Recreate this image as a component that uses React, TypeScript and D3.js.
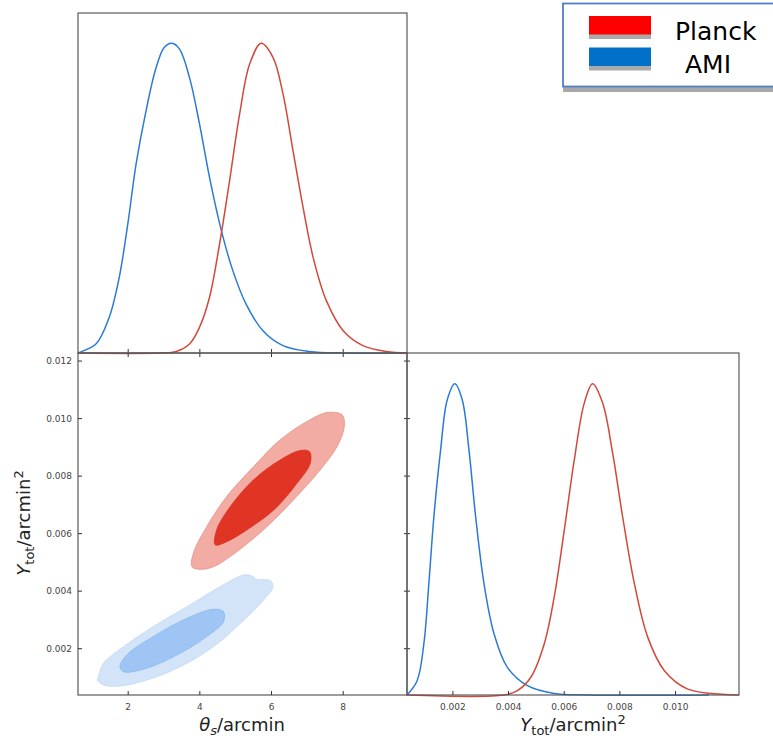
import React from "react";
import * as d3 from "d3";

// 1D marginal of theta_s (normalised to peak = 1)
const thetaAMI: [number, number][] = [
  [0.6, 0], [0.64, 0.002], [1.1, 0.029], [1.47, 0.115], [1.75, 0.244], [1.99, 0.417],
  [2.22, 0.61], [2.5, 0.783], [2.78, 0.922], [3.01, 0.987], [3.22, 1.0], [3.43, 0.982],
  [3.71, 0.89], [3.99, 0.74], [4.27, 0.567], [4.59, 0.4], [4.92, 0.266], [5.29, 0.158],
  [5.76, 0.072], [6.32, 0.024], [7.06, 0.005], [8.0, 0.0], [9.78, 0]
];
const thetaPlanck: [number, number][] = [
  [0.6, 0], [2.87, 0], [3.34, 0.005], [3.71, 0.029], [3.99, 0.083], [4.27, 0.18],
  [4.55, 0.352], [4.83, 0.557], [5.11, 0.772], [5.39, 0.933], [5.71, 1.0], [6.04, 0.955],
  [6.32, 0.837], [6.6, 0.653], [6.88, 0.47], [7.16, 0.309], [7.53, 0.169], [8.0, 0.072],
  [8.55, 0.024], [9.2, 0.005], [9.78, 0]
];

// 1D marginal of Y_tot
const ytotAMI: [number, number][] = [
  [0.00035, 0], [0.000714, 0.046], [0.000955, 0.164], [0.001135, 0.358], [0.001315, 0.572],
  [0.001557, 0.787], [0.001795, 0.948], [0.00207, 1.0], [0.002336, 0.948], [0.002577, 0.787],
  [0.002818, 0.572], [0.003117, 0.358], [0.003477, 0.197], [0.003957, 0.089], [0.004678, 0.03],
  [0.00564, 0.005], [0.0068, 0], [0.0112, 0]
];
const ytotPlanck: [number, number][] = [
  [0.00035, 0], [0.00384, 0], [0.004317, 0.014], [0.0048, 0.057], [0.00528, 0.164],
  [0.00564, 0.315], [0.006, 0.529], [0.00636, 0.755], [0.00672, 0.938], [0.00702, 1.0],
  [0.00738, 0.938], [0.00774, 0.777], [0.0081, 0.572], [0.00852, 0.358], [0.009, 0.186],
  [0.0096, 0.078], [0.01044, 0.019], [0.01228, 0]
];

// 2D contours (theta_s, Y_tot)
const planckOuter: [number, number][] = [
  [3.78, 0.00485], [3.82, 0.00532], [4.19, 0.00624], [4.75, 0.00729], [5.5, 0.00833],
  [6.24, 0.00926], [6.99, 0.0099], [7.55, 0.01021], [7.97, 0.01013], [8.03, 0.00972],
  [7.83, 0.00903], [7.36, 0.00822], [6.61, 0.00717], [5.87, 0.00624], [5.03, 0.00537],
  [4.38, 0.00485], [4.01, 0.00476]
];
const planckInner: [number, number][] = [
  [4.43, 0.00561], [4.47, 0.00613], [4.85, 0.00694], [5.5, 0.00787], [6.24, 0.00856],
  [6.8, 0.00889], [7.06, 0.00885], [7.08, 0.00845], [6.71, 0.00775], [6.06, 0.00682],
  [5.31, 0.00613], [4.75, 0.00572]
];
const amiOuter: [number, number][] = [
  [1.17, 0.00103], [1.31, 0.00149], [1.87, 0.00207], [2.7, 0.00277], [3.64, 0.00346],
  [4.57, 0.00416], [5.22, 0.00456], [5.45, 0.00453], [5.59, 0.00441], [5.96, 0.00437],
  [6.04, 0.00416], [5.78, 0.00369], [5.13, 0.00288], [4.38, 0.00207], [3.45, 0.00137],
  [2.52, 0.00091], [1.77, 0.0007], [1.31, 0.00074], [1.14, 0.00091]
];
const amiInner: [number, number][] = [
  [1.77, 0.00137], [1.96, 0.00178], [2.7, 0.00242], [3.64, 0.00306], [4.38, 0.00337],
  [4.66, 0.00329], [4.66, 0.00294], [4.19, 0.00242], [3.45, 0.00184], [2.52, 0.00132],
  [1.87, 0.0012]
];

const thetaTicks = [2, 4, 6, 8];
const ytotTicks = [0.002, 0.004, 0.006, 0.008, 0.01, 0.012];
const ytotTicksX = [0.002, 0.004, 0.006, 0.008, 0.01];
const legendNames = ["Planck", "AMI"];
const legendColors = ["#ff0000", "#0070c8"];

const RED = "#d2483c";
const BLUE = "#2a7bd8";
const FRAME = "#5a5a5a";
const TICKFONT = "DejaVu Sans, sans-serif";

export default function App() {
  const width = 773, height = 739;
  const L = 78, M = 407, R = 739, T = 13, Mid = 353, B = 695;

  const xTheta = d3.scaleLinear().domain([0.6, 9.78]).range([L, M]);
  const yTot = d3.scaleLinear().domain([0.00039, 0.01228]).range([B, Mid]);
  const xTot = d3.scaleLinear().domain([0.00035, 0.01228]).range([M, R]);
  const dTop = d3.scaleLinear().domain([0, 1.098]).range([Mid, T]);
  const dBot = d3.scaleLinear().domain([0, 1.099]).range([B, Mid]);

  const topLine = d3.line<[number, number]>()
    .x(d => xTheta(d[0])).y(d => Math.min(Mid, dTop(d[1]))).curve(d3.curveCatmullRom.alpha(0.5));
  const botLine = d3.line<[number, number]>()
    .x(d => xTot(d[0])).y(d => Math.min(B, dBot(d[1]))).curve(d3.curveCatmullRom.alpha(0.5));
  const contour = d3.line<[number, number]>()
    .x(d => xTheta(d[0])).y(d => yTot(d[1])).curve(d3.curveCatmullRomClosed.alpha(0.5));

  const tick = 4;

  return (
    <svg width={width} height={height}
      style={{ position: "absolute", left: 0, top: 0, background: "#fff" }}>
      {/* top-left: theta marginal */}
      <path d={topLine(thetaAMI) || ""} fill="none" stroke={BLUE} strokeWidth={1.5} />
      <path d={topLine(thetaPlanck) || ""} fill="none" stroke={RED} strokeWidth={1.5} />
      <rect x={L} y={T} width={M - L} height={Mid - T} fill="none" stroke={FRAME} strokeWidth={1.2} />
      {thetaTicks.map(t => (
        <line key={"tt" + t} x1={xTheta(t)} x2={xTheta(t)} y1={Mid - tick} y2={Mid + tick}
          stroke="#333" strokeWidth={1} />
      ))}

      {/* bottom-left: 2D contours */}
      <path d={contour(amiOuter) || ""} fill="#d3e4f9" stroke="#c0d8f5" strokeWidth={0.8} />
      <path d={contour(amiInner) || ""} fill="#9ec5f3" stroke="#8ab8ef" strokeWidth={0.8} />
      <path d={contour(planckOuter) || ""} fill="#f2aca4" stroke="#e79186" strokeWidth={0.8} />
      <path d={contour(planckInner) || ""} fill="#e03424" stroke="#d83020" strokeWidth={0.8} />
      <rect x={L} y={Mid} width={M - L} height={B - Mid} fill="none" stroke={FRAME} strokeWidth={1.2} />
      {thetaTicks.map(t => (
        <g key={"bt" + t}>
          <line x1={xTheta(t)} x2={xTheta(t)} y1={B} y2={B - tick} stroke="#333" />
          <text x={xTheta(t)} y={710} textAnchor="middle" fontSize={9} fill="#444"
            fontFamily={TICKFONT}>{t}</text>
        </g>
      ))}
      {ytotTicks.map(t => (
        <g key={"yt" + t}>
          <line x1={L} x2={L + tick} y1={yTot(t)} y2={yTot(t)} stroke="#333" />
          <line x1={M - 3} x2={M + 3} y1={yTot(t)} y2={yTot(t)} stroke="#333" />
          <text x={72} y={yTot(t) + 3.2} textAnchor="end" fontSize={9} fill="#444"
            fontFamily={TICKFONT}>{t.toFixed(3)}</text>
        </g>
      ))}

      {/* bottom-right: Y_tot marginal */}
      <path d={botLine(ytotAMI) || ""} fill="none" stroke={BLUE} strokeWidth={1.5} />
      <path d={botLine(ytotPlanck) || ""} fill="none" stroke={RED} strokeWidth={1.5} />
      <rect x={M} y={Mid} width={R - M} height={B - Mid} fill="none" stroke={FRAME} strokeWidth={1.2} />
      {ytotTicksX.map(t => (
        <g key={"xt" + t}>
          <line x1={xTot(t)} x2={xTot(t)} y1={B} y2={B - tick} stroke="#333" />
          <text x={xTot(t)} y={710} textAnchor="middle" fontSize={9} fill="#444"
            fontFamily={TICKFONT}>{t.toFixed(3)}</text>
        </g>
      ))}

      {/* axis labels */}
      <text x={242} y={731} textAnchor="middle" fontSize={18} fill="#222" fontFamily={TICKFONT}>
        <tspan fontStyle="italic">θ</tspan>
        <tspan fontStyle="italic" fontSize={13} dy={3.5}>s</tspan>
        <tspan dy={-3.5}>/arcmin</tspan>
      </text>
      <text x={573} y={731} textAnchor="middle" fontSize={18} fill="#222" fontFamily={TICKFONT}>
        <tspan fontStyle="italic">Y</tspan>
        <tspan fontSize={13} dy={4}>tot</tspan>
        <tspan dy={-4}>/arcmin</tspan>
        <tspan fontSize={13} dy={-7}>2</tspan>
      </text>
      <text transform="translate(30,523) rotate(-90)" textAnchor="middle" fontSize={18} fill="#222"
        fontFamily={TICKFONT}>
        <tspan fontStyle="italic">Y</tspan>
        <tspan fontSize={13} dy={4}>tot</tspan>
        <tspan dy={-4}>/arcmin</tspan>
        <tspan fontSize={13} dy={-7}>2</tspan>
      </text>

      {/* legend */}
      <rect x={563} y={87} width={215} height={5} fill="#a8a8a8" />
      <rect x={563} y={3.5} width={215} height={83} fill="#fff" stroke="#4f7fc6" strokeWidth={1.8} />
      {legendNames.map((n, i) => (
        <g key={n}>
          <rect x={589} y={21 + i * 31.5} width={62} height={18} fill="#aaaaaa" />
          <rect x={589} y={16 + i * 31.5} width={62} height={18.5} fill={legendColors[i]} />
          <text x={i === 0 ? 675 : 685} y={40 + i * 32.5} fontSize={25} fill="#000"
            fontFamily={TICKFONT}>{n}</text>
        </g>
      ))}
    </svg>
  );
}
